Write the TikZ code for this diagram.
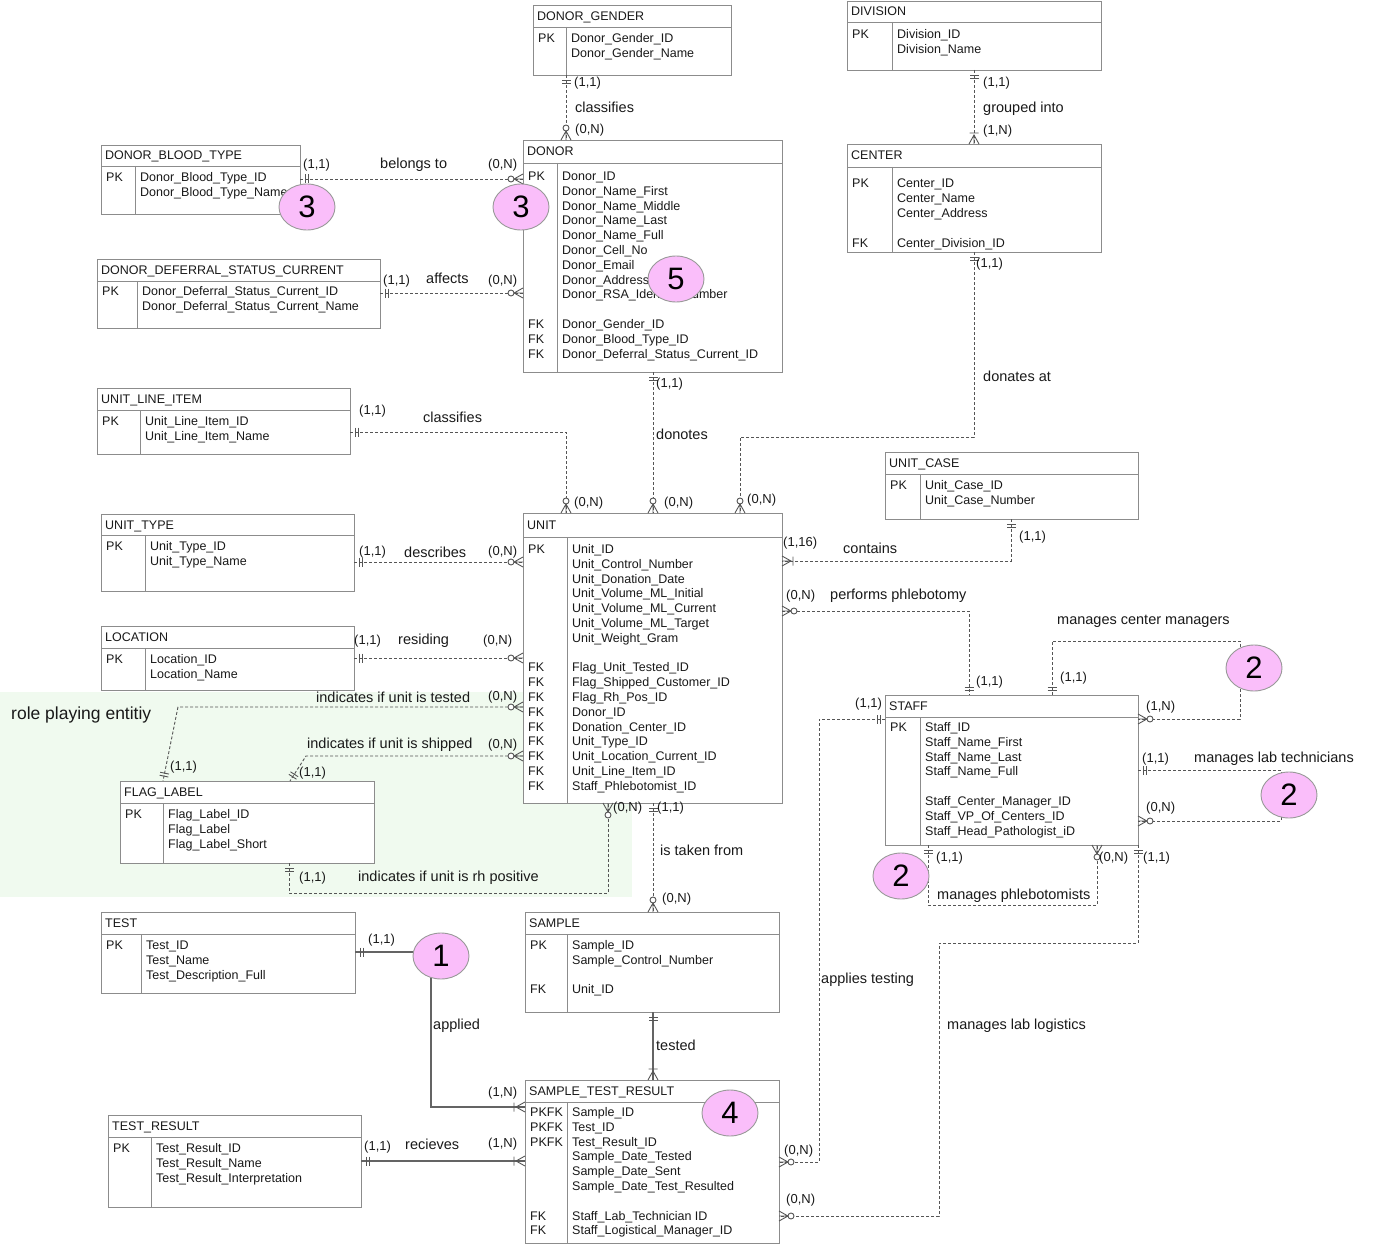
\documentclass[tikz,border=0pt]{standalone}
\usepackage{fontspec}
\setmainfont{Liberation Sans}
\usetikzlibrary{shapes.geometric}
\definecolor{tblc}{RGB}{140,140,140}
\definecolor{connc}{RGB}{85,85,85}
\definecolor{solidc}{RGB}{100,100,100}
\definecolor{pinkc}{RGB}{250,190,250}
\definecolor{greenbg}{RGB}{240,250,239}
\definecolor{txtc}{RGB}{25,25,25}
\tikzset{
 tbl/.style={draw=tblc, fill=white, line width=0.9pt, outer sep=0pt, inner sep=0pt},
 tline/.style={draw=tblc, line width=0.9pt},
 txt/.style={font=\fontsize{12.5}{15}\selectfont, text=txtc, inner sep=0pt, anchor=base west},
 card/.style={font=\fontsize{13}{15}\selectfont, text=txtc, inner sep=0pt, anchor=west},
 rel/.style={font=\fontsize{14.5}{17}\selectfont, text=txtc, inner sep=0pt, anchor=west},
 conn/.style={draw=connc, line width=0.9pt, dash pattern=on 3pt off 2pt},
 sconn/.style={draw=solidc, line width=1.2pt},
 mk/.style={draw=connc, line width=0.9pt, solid},
 m11/.pic={\draw[mk] (5,-4.5)--(5,4.5) (8,-4.5)--(8,4.5);},
 m0n/.pic={\draw[mk] (0,-5)--(9,0)--(0,5) (0,0)--(9,0); \draw[mk, fill=white] (12,0) circle (3pt);},
 m1n/.pic={\draw[mk] (0,-5)--(9,0)--(0,5) (0,0)--(9,0) (11,-4.5)--(11,4.5);},
 numbub/.style={ellipse, draw=gray!80, line width=0.9pt, fill=pinkc, minimum width=56pt, minimum height=46pt, inner sep=0pt, font=\fontsize{31}{31}\selectfont},
}
% #1 name #2 x1 #3 y1 #4 x2 #5 y2 #6 header y #7 divider x #8 title
\newcommand\ertbl[8]{%
  \node[tbl, anchor=north west, minimum width={#4-#2}, minimum height={#5-#3}] (#1) at (#2,#3) {};
  \draw[tline] (#2,#6) -- (#4,#6) (#7,#6) -- (#7,#5);
  \node[txt] (#1-title) at (#2+4,{(#3+#6)/2+4.5}) {#8};
  \def\ertx{#2}\def\erdx{#7}\def\ername{#1}}
% #1 first baseline #2 keys #3 attributes
\newcommand\errows[3]{%
  \foreach \t [count=\i from 0] in {#2} \node[txt] (\ername-k\i) at (\ertx+5, #1+\i*14.8) {\t};
  \foreach \t [count=\i from 0] in {#3} \node[txt] (\ername-a\i) at (\erdx+5, #1+\i*14.8) {\t};}
\begin{document}
\begin{tikzpicture}[x=1pt,y=-1pt]
\useasboundingbox (0,0) rectangle (1377,1244);
\fill[greenbg] (0,692) rectangle (632,897);
\node[rel, font=\fontsize{17.5}{20}\selectfont] (role) at (11,715) {role playing entitiy};

% ---------- tables ----------
\ertbl{DG}{533}{5}{731}{75}{27}{566}{DONOR\_GENDER}
\errows{42.5}{PK}{Donor\_Gender\_ID,Donor\_Gender\_Name}

\ertbl{DIV}{847}{1}{1101}{70}{22}{892}{DIVISION}
\errows{38.5}{PK}{Division\_ID,Division\_Name}

\ertbl{BT}{101}{145}{300}{214}{166}{135}{DONOR\_BLOOD\_TYPE}
\errows{181.5}{PK}{Donor\_Blood\_Type\_ID,Donor\_Blood\_Type\_Name}

\ertbl{DONOR}{523}{140}{782}{372}{163}{557}{DONOR}
\errows{180.5}{PK,{},{},{},{},{},{},{},{},{},FK,FK,FK}{Donor\_ID,Donor\_Name\_First,Donor\_Name\_Middle,Donor\_Name\_Last,Donor\_Name\_Full,Donor\_Cell\_No,Donor\_Email,Donor\_Address,Donor\_RSA\_Identity\_Number,{},Donor\_Gender\_ID,Donor\_Blood\_Type\_ID,Donor\_Deferral\_Status\_Current\_ID}

\ertbl{CEN}{847}{144}{1101}{252}{167}{892}{CENTER}
\errows{188}{PK,{},{},{},FK}{Center\_ID,Center\_Name,Center\_Address,{},Center\_Division\_ID}

\ertbl{DDSC}{97}{259}{380}{328}{281}{137}{DONOR\_DEFERRAL\_STATUS\_CURRENT}
\errows{295.5}{PK}{Donor\_Deferral\_Status\_Current\_ID,Donor\_Deferral\_Status\_Current\_Name}

\ertbl{ULI}{97}{388}{350}{454}{410}{140}{UNIT\_LINE\_ITEM}
\errows{425.5}{PK}{Unit\_Line\_Item\_ID,Unit\_Line\_Item\_Name}

\ertbl{UC}{885}{452}{1138}{519}{474}{920}{UNIT\_CASE}
\errows{489.5}{PK}{Unit\_Case\_ID,Unit\_Case\_Number}

\ertbl{UT}{101}{514}{354}{591}{535}{145}{UNIT\_TYPE}
\errows{550.5}{PK}{Unit\_Type\_ID,Unit\_Type\_Name}

\ertbl{UNIT}{523}{513}{782}{803}{537}{567}{UNIT}
\errows{553.5}{PK,{},{},{},{},{},{},{},FK,FK,FK,FK,FK,FK,FK,FK,FK}{Unit\_ID,Unit\_Control\_Number,Unit\_Donation\_Date,Unit\_Volume\_ML\_Initial,Unit\_Volume\_ML\_Current,Unit\_Volume\_ML\_Target,Unit\_Weight\_Gram,{},Flag\_Unit\_Tested\_ID,Flag\_Shipped\_Customer\_ID,Flag\_Rh\_Pos\_ID,Donor\_ID,Donation\_Center\_ID,Unit\_Type\_ID,Unit\_Location\_Current\_ID,Unit\_Line\_Item\_ID,Staff\_Phlebotomist\_ID}

\ertbl{LOC}{101}{626}{354}{690}{648}{145}{LOCATION}
\errows{663.5}{PK}{Location\_ID,Location\_Name}

\ertbl{STAFF}{885}{695}{1138}{845}{717}{920}{STAFF}
\errows{731.5}{PK}{Staff\_ID,Staff\_Name\_First,Staff\_Name\_Last,Staff\_Name\_Full,{},Staff\_Center\_Manager\_ID,Staff\_VP\_Of\_Centers\_ID,Staff\_Head\_Pathologist\_iD}

\ertbl{FLAG}{120}{781}{374}{863}{803}{163}{FLAG\_LABEL}
\errows{818.5}{PK}{Flag\_Label\_ID,Flag\_Label,Flag\_Label\_Short}

\ertbl{TEST}{101}{912}{355}{993}{934}{141}{TEST}
\errows{949.5}{PK}{Test\_ID,Test\_Name,Test\_Description\_Full}

\ertbl{SAMPLE}{525}{912}{779}{1012}{934}{567}{SAMPLE}
\errows{949.5}{PK,{},{},FK}{Sample\_ID,Sample\_Control\_Number,{},Unit\_ID}

\ertbl{TR}{108}{1115}{361}{1207}{1137}{151}{TEST\_RESULT}
\errows{1152.5}{PK}{Test\_Result\_ID,Test\_Result\_Name,Test\_Result\_Interpretation}

\ertbl{STR}{525}{1080}{779}{1243}{1102}{567}{SAMPLE\_TEST\_RESULT}
\errows{1116.5}{PKFK,PKFK,PKFK,{},{},{},{},FK,FK}{Sample\_ID,Test\_ID,Test\_Result\_ID,Sample\_Date\_Tested,Sample\_Date\_Sent,Sample\_Date\_Test\_Resulted,{},Staff\_Lab\_Technician ID,Staff\_Logistical\_Manager\_ID}

% ---------- connectors ----------
% classifies (gender)
\draw[conn] (566,0 |- DG.south) -- (566,0 |- DONOR.north);
\pic[rotate=-90] at (566,0 |- DG.south) {m11};
\pic[rotate=90] at (566,0 |- DONOR.north) {m0n};
\node[card] (c1a) at (574,83) {(1,1)};
\node[rel] (r1) at (575,107) {classifies};
\node[card] (c1b) at (575,130) {(0,N)};
% grouped into
\draw[conn] (974,0 |- DIV.south) -- (974,0 |- CEN.north);
\pic[rotate=-90] at (974,0 |- DIV.south) {m11};
\pic[rotate=90] at (974,0 |- CEN.north) {m1n};
\node[card] (c2a) at (983,83) {(1,1)};
\node[rel] (r2) at (983,109) {grouped into};
\node[card] (c2b) at (983,131) {(1,N)};
% belongs to
\draw[conn] (BT.east |- 0,179) -- (DONOR.west |- 0,179);
\pic at (BT.east |- 0,179) {m11};
\pic[rotate=180] at (DONOR.west |- 0,179) {m0n};
\node[card] (c3a) at (303,165) {(1,1)};
\node[rel] (r3) at (380,165) {belongs to};
\node[card] (c3b) at (488,165) {(0,N)};
% affects
\draw[conn] (DDSC.east |- 0,293) -- (DONOR.west |- 0,293);
\pic at (DDSC.east |- 0,293) {m11};
\pic[rotate=180] at (DONOR.west |- 0,293) {m0n};
\node[card] (c4a) at (383,281) {(1,1)};
\node[rel] (r4) at (426,278) {affects};
\node[card] (c4b) at (488,281) {(0,N)};
% donates at
\draw[conn] (974,0 |- CEN.south) -- (974,437) -- (740,437) -- (740,0 |- UNIT.north);
\pic[rotate=-90] at (974,0 |- CEN.south) {m11};
\pic[rotate=90] at (740,0 |- UNIT.north) {m0n};
\node[card] (c5a) at (976,264) {(1,1)};
\node[rel] (r5) at (983,376) {donates at};
\node[card] (c5b) at (747,500) {(0,N)};
% donotes
\draw[conn] (653,0 |- DONOR.south) -- (653,0 |- UNIT.north);
\pic[rotate=-90] at (653,0 |- DONOR.south) {m11};
\pic[rotate=90] at (653,0 |- UNIT.north) {m0n};
\node[card] (c6a) at (656,384) {(1,1)};
\node[rel] (r6) at (656,434) {donotes};
\node[card] (c6b) at (664,503) {(0,N)};
% classifies (line item)
\draw[conn] (ULI.east |- 0,432) -- (566,432) -- (566,0 |- UNIT.north);
\pic at (ULI.east |- 0,432) {m11};
\pic[rotate=90] at (566,0 |- UNIT.north) {m0n};
\node[card] (c7a) at (359,411) {(1,1)};
\node[rel] (r7) at (423,417) {classifies};
\node[card] (c7b) at (574,503) {(0,N)};
% describes
\draw[conn] (UT.east |- 0,562) -- (UNIT.west |- 0,562);
\pic at (UT.east |- 0,562) {m11};
\pic[rotate=180] at (UNIT.west |- 0,562) {m0n};
\node[card] (c8a) at (359,552) {(1,1)};
\node[rel] (r8) at (404,552) {describes};
\node[card] (c8b) at (488,552) {(0,N)};
% residing
\draw[conn] (LOC.east |- 0,658) -- (UNIT.west |- 0,658);
\pic at (LOC.east |- 0,658) {m11};
\pic[rotate=180] at (UNIT.west |- 0,658) {m0n};
\node[card] (c9a) at (354,641) {(1,1)};
\node[rel] (r9) at (398,641) {residing};
\node[card] (c9b) at (483,641) {(0,N)};
% indicates if unit is tested
\draw[conn] (UNIT.west |- 0,707) -- (178,707) -- (163,0 |- FLAG.north);
\pic[rotate=180] at (UNIT.west |- 0,707) {m0n};
\pic[rotate=78.5] at (163,0 |- FLAG.north) {m11};
\node[rel] (r10) at (316,697) {indicates if unit is tested};
\node[card] (c10b) at (488,697) {(0,N)};
\node[card] (c10a) at (170,767) {(1,1)};
% indicates if unit is shipped
\draw[conn] (UNIT.west |- 0,756) -- (306,756) -- (290,0 |- FLAG.north);
\pic[rotate=180] at (UNIT.west |- 0,756) {m0n};
\pic[rotate=57.4] at (290,0 |- FLAG.north) {m11};
\node[rel] (r11) at (307,745) {indicates if unit is shipped};
\node[card] (c11b) at (488,745) {(0,N)};
\node[card] (c11a) at (299,773) {(1,1)};
% indicates if unit is rh positive
\draw[conn] (289,0 |- FLAG.south) -- (289,893) -- (608,893) -- (608,0 |- UNIT.south);
\pic[rotate=-90] at (289,0 |- FLAG.south) {m11};
\pic[rotate=-90] at (608,0 |- UNIT.south) {m0n};
\node[card] (c12a) at (299,878) {(1,1)};
\node[rel] (r12) at (358,878) {indicates if unit is rh positive};
\node[card] (c12b) at (613,808) {(0,N)};
% is taken from
\draw[conn] (653,0 |- UNIT.south) -- (653,0 |- SAMPLE.north);
\pic[rotate=-90] at (653,0 |- UNIT.south) {m11};
\pic[rotate=90] at (653,0 |- SAMPLE.north) {m0n};
\node[card] (c13a) at (657,808) {(1,1)};
\node[rel] (r13) at (660,850) {is taken from};
\node[card] (c13b) at (662,899) {(0,N)};
% contains
\draw[conn] (1011,0 |- UC.south) -- (1011,561) -- (UNIT.east |- 0,561);
\pic[rotate=-90] at (1011,0 |- UC.south) {m11};
\pic at (UNIT.east |- 0,561) {m1n};
\node[card] (c14a) at (1019,537) {(1,1)};
\node[rel] (r14) at (843,548) {contains};
\node[card] (c14b) at (783,543) {(1,16)};
% performs phlebotomy
\draw[conn] (UNIT.east |- 0,611) -- (969,611) -- (969,0 |- STAFF.north);
\pic at (UNIT.east |- 0,611) {m0n};
\pic[rotate=90] at (969,0 |- STAFF.north) {m11};
\node[card] (c15a) at (786,596) {(0,N)};
\node[rel] (r15) at (830,596) {performs phlebotomy};
\node[card] (c15b) at (976,682) {(1,1)};
% manages center managers
\draw[conn] (1052,0 |- STAFF.north) -- (1052,641) -- (1240,641) -- (1240,719) -- (STAFF.east |- 0,719);
\pic[rotate=90] at (1052,0 |- STAFF.north) {m11};
\pic at (STAFF.east |- 0,719) {m0n};
\node[card] (c16a) at (1060,678) {(1,1)};
\node[rel] (r16) at (1057,621) {manages center managers};
\node[card] (c16b) at (1146,707) {(1,N)};
% manages lab technicians
\draw[conn] (STAFF.east |- 0,770) -- (1281,770) -- (1281,821) -- (STAFF.east |- 0,821);
\pic at (STAFF.east |- 0,770) {m11};
\pic at (STAFF.east |- 0,821) {m0n};
\node[card] (c17a) at (1142,759) {(1,1)};
\node[rel] (r17) at (1194,759) {manages lab technicians};
\node[card] (c17b) at (1146,808) {(0,N)};
% manages phlebotomists
\draw[conn] (928,0 |- STAFF.south) -- (928,905) -- (1097,905) -- (1097,0 |- STAFF.south);
\pic[rotate=-90] at (928,0 |- STAFF.south) {m11};
\pic[rotate=-90] at (1097,0 |- STAFF.south) {m0n};
\node[card] (c18a) at (936,858) {(1,1)};
\node[card] (c18b) at (1099,858) {(0,N)};
\node[rel] (r18) at (937,896) {manages phlebotomists};
% applies testing
\draw[conn] (STAFF.west |- 0,719) -- (819,719) -- (819,1162) -- (STR.east |- 0,1162);
\pic[rotate=180] at (STAFF.west |- 0,719) {m11};
\pic at (STR.east |- 0,1162) {m0n};
\node[card] (c19a) at (855,704) {(1,1)};
\node[rel] (r19) at (821,980) {applies testing};
\node[card] (c19b) at (784,1151) {(0,N)};
% manages lab logistics
\draw[conn] (STAFF.south east) -- (1138,943) -- (939,943) -- (939,1216) -- (STR.east |- 0,1216);
\pic[rotate=-90] at (STAFF.south east) {m11};
\pic at (STR.east |- 0,1216) {m0n};
\node[card] (c20a) at (1143,858) {(1,1)};
\node[rel] (r20) at (947,1026) {manages lab logistics};
\node[card] (c20b) at (786,1200) {(0,N)};
% tested
\draw[sconn] (653,0 |- SAMPLE.south) -- (653,0 |- STR.north);
\pic[rotate=-90] at (653,0 |- SAMPLE.south) {m11};
\pic[rotate=90] at (653,0 |- STR.north) {m1n};
\node[rel] (r21) at (656,1045) {tested};
% applied
\draw[sconn] (TEST.east |- 0,952) -- (431,952) -- (431,1107) -- (STR.west |- 0,1107);
\pic at (TEST.east |- 0,952) {m11};
\pic[rotate=180] at (STR.west |- 0,1107) {m1n};
\node[card] (c22a) at (368,940) {(1,1)};
\node[rel] (r22) at (433,1026) {applied};
\node[card] (c22b) at (488,1093) {(1,N)};
% recieves
\draw[sconn] (TR.east |- 0,1161) -- (STR.west |- 0,1161);
\pic at (TR.east |- 0,1161) {m11};
\pic[rotate=180] at (STR.west |- 0,1161) {m1n};
\node[card] (c23a) at (364,1147) {(1,1)};
\node[rel] (r23) at (405,1144) {recieves};
\node[card] (c23b) at (488,1144) {(1,N)};

% ---------- number bubbles ----------
\node[numbub] (n3a) at (307,207) {3};
\node[numbub] (n3b) at (521,207) {3};
\node[numbub] (n5) at (676,279) {5};
\node[numbub] (n2a) at (1254,668) {2};
\node[numbub] (n2b) at (1289,795) {2};
\node[numbub] (n2c) at (901,876) {2};
\node[numbub] (n1) at (441,956) {1};
\node[numbub] (n4) at (730,1113) {4};
\end{tikzpicture}
\end{document}
